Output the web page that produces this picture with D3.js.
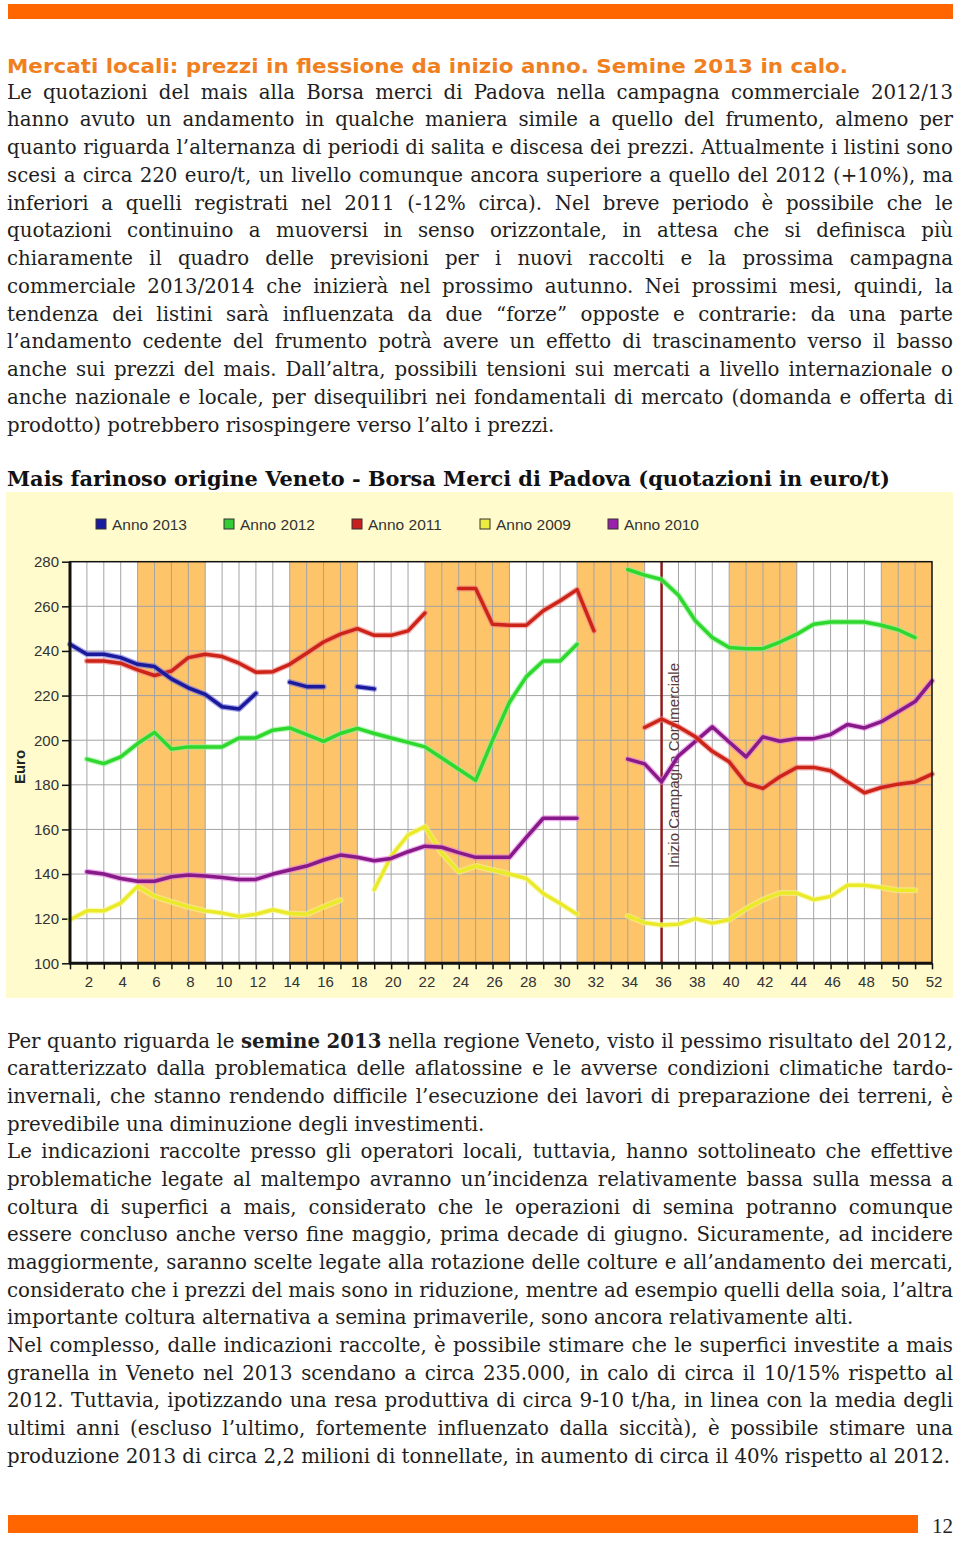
<!DOCTYPE html>
<html><head><meta charset="utf-8">
<script src="https://cdn.jsdelivr.net/npm/d3@7"></script>
<style>html,body{margin:0;padding:0;background:#fff;} svg{display:block;}</style>
</head><body>
<svg id="page" width="960" height="1541"></svg>
<script>
// ---------------- DATA ----------------
const _ = null;
const weeks = d3.range(1, 53);
const yTicks = [100, 120, 140, 160, 180, 200, 220, 240, 260, 280];
const xTickLabels = d3.range(2, 53, 2);
const monthBands = [[5, 9], [14, 18], [22, 27], [31, 35], [40, 44], [49, 52]];
const campaignStartWeek = 36;
const campaignLabel = "Inizio Campagna Commerciale";
const yAxisLabel = "Euro";
const legendNames = ["Anno 2013", "Anno 2012", "Anno 2011", "Anno 2009", "Anno 2010"];

const anno2013 = [243,238.5,238.5,237,234,233,227.5,223.5,220.5,215,
  214,221,_,226,224,224,_,224,223,_,
  _,_,_,_,_,_,_,_,_,_,
  _,_,_,_,_,_,_,_,_,_,
  _,_,_,_,_,_,_,_,_,_,
  _,_];
const anno2012 = [_,191.5,189.5,192.5,198.5,203.5,196,197,197,197,
  201,201,204.5,205.5,202.5,199.5,203,205.3,203,201,
  199,197,192,187,182,200,217,228.5,235.5,235.5,
  243,_,_,276.5,274,272,265,253.5,246,241.5,
  241,241,244,247.5,252,253,253,253,251.5,249.5,
  246,_];
const anno2011 = [_,235.5,235.5,234.5,231.5,229,231,237,238.5,237.5,
  234.5,230.5,230.7,234,239,244,247.5,250,247,247,
  249,257,_,268,268,252,251.5,251.5,258,262.5,
  267.5,249,_,_,205.7,209.5,206,201.5,195,190.3,
  180.7,178.4,183.6,187.8,187.8,186.3,181.3,176.4,178.8,180.3,
  181.3,184.8];
const anno2009 = [119.5,123.5,123.5,127,134.5,130,127.5,125.3,123.5,122.5,
  121,122,124,122.3,122,125.3,128.3,_,133,148,
  157.5,161.3,149.3,141,143.6,141.8,140,138,131.3,126.8,
  122,_,_,121.2,118.2,117.2,117.5,120,118,119.5,
  124.5,128.5,131.5,131.5,128.5,130,135,135,134,132.7,
  132.7,_];
const anno2010 = [_,141,140,138,136.8,136.8,138.8,139.6,139.1,138.5,
  137.6,137.6,140,141.8,143.6,146.3,148.5,147.5,146,147,
  150,152.5,152,149.6,147.5,147.5,147.5,156.4,165,165,
  165,_,_,191.5,189.4,181.3,193,199.5,206,199.2,
  192.5,201.5,199.5,200.7,200.7,202.5,207,205.5,208.3,212.8,
  217.3,226.6];

// ---------------- TEXT CONTENT ----------------
const pageTitle = "Mercati locali: prezzi in flessione da inizio anno. Semine 2013 in calo.";
const chartTitle = "Mais farinoso origine Veneto - Borsa Merci di Padova (quotazioni in euro/t)";
const pageNumber = "12";
const block1 = [
  "Le quotazioni del mais alla Borsa merci di Padova nella campagna commerciale 2012/13",
  "hanno avuto un andamento in qualche maniera simile a quello del frumento, almeno per",
  "quanto riguarda l’alternanza di periodi di salita e discesa dei prezzi. Attualmente i listini sono",
  "scesi a circa 220 euro/t, un livello comunque ancora superiore a quello del 2012 (+10%), ma",
  "inferiori a quelli registrati nel 2011 (-12% circa). Nel breve periodo è possibile che le",
  "quotazioni continuino a muoversi in senso orizzontale, in attesa che si definisca più",
  "chiaramente il quadro delle previsioni per i nuovi raccolti e la prossima campagna",
  "commerciale 2013/2014 che inizierà nel prossimo autunno. Nei prossimi mesi, quindi, la",
  "tendenza dei listini sarà influenzata da due “forze” opposte e contrarie: da una parte",
  "l’andamento cedente del frumento potrà avere un effetto di trascinamento verso il basso",
  "anche sui prezzi del mais. Dall’altra, possibili tensioni sui mercati a livello internazionale o",
  "anche nazionale e locale, per disequilibri nei fondamentali di mercato (domanda e offerta di",
  "prodotto) potrebbero risospingere verso l’alto i prezzi."
];
const block1Last = [12];
const block2 = [
  "Per quanto riguarda le **semine 2013** nella regione Veneto, visto il pessimo risultato del 2012,",
  "caratterizzato dalla problematica delle aflatossine e le avverse condizioni climatiche tardo-",
  "invernali, che stanno rendendo difficile l’esecuzione dei lavori di preparazione dei terreni, è",
  "prevedibile una diminuzione degli investimenti.",
  "Le indicazioni raccolte presso gli operatori locali, tuttavia, hanno sottolineato che effettive",
  "problematiche legate al maltempo avranno un’incidenza relativamente bassa sulla messa a",
  "coltura di superfici a mais, considerato che le operazioni di semina potranno comunque",
  "essere concluso anche verso fine maggio, prima decade di giugno. Sicuramente, ad incidere",
  "maggiormente, saranno scelte legate alla rotazione delle colture e all’andamento dei mercati,",
  "considerato che i prezzi del mais sono in riduzione, mentre ad esempio quelli della soia, l’altra",
  "importante coltura alternativa a semina primaverile, sono ancora relativamente alti.",
  "Nel complesso, dalle indicazioni raccolte, è possibile stimare che le superfici investite a mais",
  "granella in Veneto nel 2013 scendano a circa 235.000, in calo di circa il 10/15% rispetto al",
  "2012. Tuttavia, ipotizzando una resa produttiva di circa 9-10 t/ha, in linea con la media degli",
  "ultimi anni (escluso l’ultimo, fortemente influenzato dalla siccità), è possibile stimare una",
  "produzione 2013 di circa 2,2 milioni di tonnellate, in aumento di circa il 40% rispetto al 2012."
];
const block2Last = [3, 10, 15];

// ---------------- PAGE ----------------
const svg = d3.select("#page");
const ORANGE = "#ff6600";
svg.append("rect").attr("x", 8).attr("y", 4).attr("width", 945).attr("height", 15).attr("fill", ORANGE);
svg.append("rect").attr("x", 8).attr("y", 1515).attr("width", 910).attr("height", 18).attr("fill", ORANGE);
svg.append("text").attr("x", 953).attr("y", 1533).attr("text-anchor", "end")
  .attr("font-family", "Liberation Serif").attr("font-size", 21).attr("fill", "#222").text(pageNumber);

svg.append("text").attr("x", 7).attr("y", 73)
  .attr("font-family", "DejaVu Sans").attr("font-weight", "bold").attr("font-size", 20)
  .attr("fill", "#f0801e").attr("textLength", 841).attr("lengthAdjust", "spacingAndGlyphs")
  .text(pageTitle);

svg.append("text").attr("x", 7).attr("y", 486)
  .attr("font-family", "DejaVu Serif").attr("font-weight", "bold").attr("font-size", 21)
  .attr("fill", "#111").attr("textLength", 883).attr("lengthAdjust", "spacingAndGlyphs")
  .text(chartTitle);

// body text, justified
const bodyG = svg.append("g").attr("font-family", "DejaVu Serif").attr("fill", "#1e1e1e");
function measure(str, bold, size) {
  const t = bodyG.append("text").attr("font-size", size).attr("font-weight", bold ? "bold" : "normal")
    .style("white-space", "pre").text(str);
  const w = t.node().getComputedTextLength();
  t.remove();
  return w;
}
const calib = [[block1[12], 550], [block2[3], 480], [block2[10], 843], [block2[15], 939]];
const ratio = d3.mean(calib, c => c[1] / measure(c[0], false, 20));
const BODY_SIZE = 20 * ratio;
const spaceW = measure("n n", false, BODY_SIZE) - measure("nn", false, BODY_SIZE);

function parseWords(line) {
  const parts = line.split("**");
  const words = [];
  parts.forEach((p, i) => {
    p.split(" ").filter(s => s.length).forEach(w => words.push({t: w, b: i % 2 === 1}));
  });
  return words;
}
function drawBlock(lines, lastIdx, x0, width, y0, lh) {
  lines.forEach((line, li) => {
    const words = parseWords(line);
    words.forEach(w => w.w = measure(w.t, w.b, BODY_SIZE));
    const sum = d3.sum(words, w => w.w);
    const gap = lastIdx.includes(li) || words.length < 2 ? spaceW : (width - sum) / (words.length - 1);
    const t = bodyG.append("text").attr("y", y0 + li * lh).attr("font-size", BODY_SIZE);
    let x = x0;
    words.forEach(w => {
      t.append("tspan").attr("x", x).attr("font-weight", w.b ? "bold" : "normal").text(w.t);
      x += w.w + gap;
    });
  });
}
drawBlock(block1, block1Last, 7, 946, 98.5, 27.75);
drawBlock(block2, block2Last, 7, 946, 1047.5, 27.67);

// ---------------- CHART ----------------
const chartBox = {x: 6, y: 492, w: 947, h: 506};
svg.append("rect").attr("x", chartBox.x).attr("y", chartBox.y).attr("width", chartBox.w).attr("height", chartBox.h)
  .attr("fill", "#fffbcc");

const x = d3.scaleLinear().domain([1, 52]).range([70, 932]);
const y = d3.scaleLinear().domain([100, 280]).range([963.3, 561.7]);
const plot = svg.append("g");

plot.append("rect").attr("x", x(1)).attr("y", y(280)).attr("width", x(52) - x(1)).attr("height", y(100) - y(280)).attr("fill", "#fff");
plot.selectAll("rect.band").data(monthBands).join("rect").attr("class", "band")
  .attr("x", d => x(d[0])).attr("y", y(280)).attr("width", d => x(d[1]) - x(d[0])).attr("height", y(100) - y(280))
  .attr("fill", "#fdc46a");

// grid
plot.selectAll("line.vg").data(weeks.slice(1, -1)).join("line").attr("class", "vg")
  .attr("x1", d => x(d)).attr("x2", d => x(d)).attr("y1", y(280)).attr("y2", y(100))
  .attr("stroke", "#a4a4a4").attr("stroke-width", 1);
plot.selectAll("line.hg").data(yTicks.slice(1, -1)).join("line").attr("class", "hg")
  .attr("y1", d => y(d)).attr("y2", d => y(d)).attr("x1", x(1)).attr("x2", x(52))
  .attr("stroke", "#a4a4a4").attr("stroke-width", 1);

// axes
const yAxis = d3.axisLeft(y).tickValues(yTicks).tickSize(8).tickPadding(3);
const gy = plot.append("g").attr("transform", `translate(${x(1)},0)`).call(yAxis);
const xAxis = d3.axisBottom(x).tickValues(weeks).tickSize(6).tickPadding(7)
  .tickFormat(d => xTickLabels.includes(d) ? d : "");
const gx = plot.append("g").attr("transform", `translate(0,${y(100)})`).call(xAxis);
[gx, gy].forEach(g => {
  g.select(".domain").remove();
  g.selectAll(".tick line").attr("stroke", "#111").attr("stroke-width", 1.5);
  g.selectAll(".tick text").attr("font-family", "Liberation Sans").attr("font-size", 15).attr("fill", "#333");
});
gx.selectAll(".tick text").attr("dx", "0.1em");

// campaign start line
plot.append("line").attr("x1", x(campaignStartWeek)).attr("x2", x(campaignStartWeek))
  .attr("y1", y(280)).attr("y2", y(100)).attr("stroke", "#8e1b1b").attr("stroke-width", 2.5);
plot.append("text").attr("transform", `translate(${x(campaignStartWeek) + 17},868) rotate(-90)`)
  .attr("font-family", "Liberation Sans").attr("font-size", 15).attr("fill", "#5a3b3b")
  .attr("textLength", 205).attr("lengthAdjust", "spacingAndGlyphs").text(campaignLabel);

// series
const seriesList = [
  {name: "Anno 2009", values: anno2009, core: "#eaea2a", halo: "#f6f690"},
  {name: "Anno 2010", values: anno2010, core: "#861a86", halo: "#e878e8"},
  {name: "Anno 2011", values: anno2011, core: "#cc2418", halo: "#f08080"},
  {name: "Anno 2012", values: anno2012, core: "#2ed82e", halo: "#90f090"},
  {name: "Anno 2013", values: anno2013, core: "#1a1a9a", halo: "#6a6ae0"}
];
const line = d3.line().defined(d => d.v !== null).x(d => x(d.w)).y(d => y(d.v));
seriesList.forEach(s => {
  const pts = s.values.map((v, i) => ({w: weeks[i], v}));
  plot.append("path").datum(pts).attr("d", line).attr("fill", "none")
    .attr("stroke", s.halo).attr("stroke-width", 6).attr("stroke-opacity", 0.6)
    .attr("stroke-linejoin", "round").attr("stroke-linecap", "round");
  plot.append("path").datum(pts).attr("d", line).attr("fill", "none")
    .attr("stroke", s.core).attr("stroke-width", 3.5)
    .attr("stroke-linejoin", "round").attr("stroke-linecap", "round");
});

// frame
plot.append("rect").attr("x", x(1)).attr("y", y(280)).attr("width", x(52) - x(1)).attr("height", y(100) - y(280))
  .attr("fill", "none").attr("stroke", "#111").attr("stroke-width", 1.5);
plot.append("line").attr("x1", x(1)).attr("x2", x(1)).attr("y1", y(280)).attr("y2", y(100)).attr("stroke", "#111").attr("stroke-width", 3);
plot.append("line").attr("x1", x(1) - 1).attr("x2", x(52)).attr("y1", y(100)).attr("y2", y(100)).attr("stroke", "#111").attr("stroke-width", 3);

// y label
svg.append("text").attr("transform", "translate(25,767) rotate(-90)").attr("text-anchor", "middle")
  .attr("font-family", "Liberation Sans").attr("font-weight", "bold").attr("font-size", 15).attr("fill", "#222")
  .text(yAxisLabel);

// legend
const legendColors = {"Anno 2013": "#1a1aa0", "Anno 2012": "#33cc33", "Anno 2011": "#c82020", "Anno 2009": "#ecec40", "Anno 2010": "#9a22aa"};
const legend = svg.append("g").selectAll("g").data(legendNames).join("g")
  .attr("transform", (d, i) => `translate(${96 + i * 128},519)`);
legend.append("rect").attr("width", 10).attr("height", 10).attr("fill", d => legendColors[d])
  .attr("stroke", "#333").attr("stroke-width", 1);
legend.append("text").attr("x", 16).attr("y", 11).attr("font-family", "Liberation Sans").attr("font-size", 15.5)
  .attr("fill", "#333").text(d => d);
</script>
</body></html>
